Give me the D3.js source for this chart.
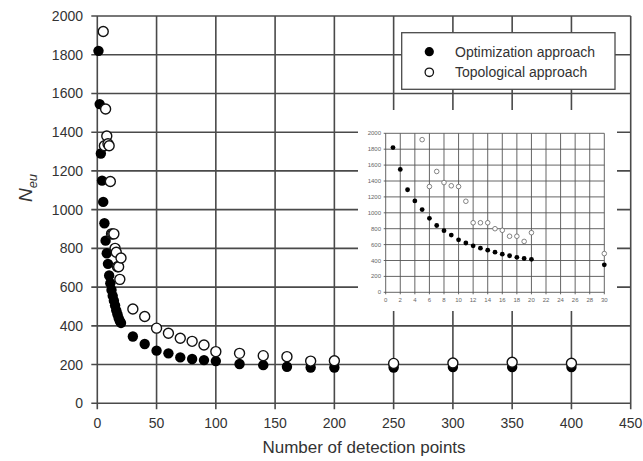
<!DOCTYPE html>
<html>
<head>
	<meta charset="utf-8">
	<title>Neu vs detection points</title>
	<script src="https://d3js.org/d3.v7.min.js"></script>
	<style>
		body { margin: 0; background: #fff; }
		text { font-family: "Liberation Sans", Arial, sans-serif; }
	</style>
</head>
<body>
<script>
// data
var optX = [1,2,3,4,5,6,7,8,9,10,11,12,13,14,15,16,17,18,19,20,30,40,50,60,70,80,90,100,120,140,160,180,200,250,300,350,400]
var optY = [1820,1545,1290,1150,1040,930,840,775,720,660,620,585,555,530,505,480,460,440,425,415,345,306,272,258,237,229,223,218,203,197,189,185,185,185,187,187,187]
var topoX = [5,6,7,8,9,10,11,12,13,14,15,16,17,18,19,20,30,40,50,60,70,80,90,100,120,140,160,180,200,250,300,350,400]
var topoY = [1920,1330,1520,1380,1340,1330,1145,875,875,875,800,780,705,705,640,750,487,448,388,362,336,320,301,267,258,246,241,218,220,206,208,212,207]
var xTicks = d3.range(0, 451, 50)
var yTicks = d3.range(0, 2001, 200)
var insetXTicks = d3.range(0, 31, 2)
var legendLabels = ["Optimization approach", "Topological approach"]

var width = 643, height = 461
var svg = d3.select("body").append("svg")
	.attr("width", width)
	.attr("height", height)

var x = d3.scaleLinear().domain([0, 450]).range([97.3, 630.7])
var y = d3.scaleLinear().domain([0, 2000]).range([403.3, 16])
var gridCol = "#4a4a4a"
var textCol = "#333"

// grid
svg.append("g").selectAll("line").data(xTicks).enter().append("line")
	.attr("x1", d => x(d)).attr("x2", d => x(d))
	.attr("y1", y(2000)).attr("y2", y(0) + 6)
	.attr("stroke", gridCol).attr("stroke-width", 1.6)
svg.append("g").selectAll("line").data(yTicks).enter().append("line")
	.attr("x1", x(0) - 6).attr("x2", x(450))
	.attr("y1", d => y(d)).attr("y2", d => y(d))
	.attr("stroke", gridCol).attr("stroke-width", 1.6)

// tick labels
svg.append("g").selectAll("text").data(xTicks).enter().append("text")
	.attr("x", d => x(d)).attr("y", 428)
	.attr("text-anchor", "middle").attr("font-size", 14).attr("fill", textCol)
	.text(d => d)
svg.append("g").selectAll("text").data(yTicks).enter().append("text")
	.attr("x", 83).attr("y", d => y(d) + 5)
	.attr("text-anchor", "end").attr("font-size", 14).attr("fill", textCol)
	.text(d => d)

// axis titles
svg.append("text")
	.attr("x", 364).attr("y", 453)
	.attr("text-anchor", "middle").attr("font-size", 17).attr("fill", textCol)
	.text("Number of detection points")
var yt = svg.append("text")
	.attr("transform", "translate(32,188) rotate(-90)")
	.attr("text-anchor", "middle").attr("fill", textCol).attr("font-style", "italic")
yt.append("tspan").attr("font-size", 19).text("N")
yt.append("tspan").attr("font-size", 13).attr("dy", 5).text("eu")

// main points
svg.append("g").selectAll("circle").data(optX).enter().append("circle")
	.attr("cx", d => x(d)).attr("cy", (d, i) => y(optY[i]))
	.attr("r", 5.2).attr("fill", "#000")
svg.append("g").selectAll("circle").data(topoX).enter().append("circle")
	.attr("cx", d => x(d)).attr("cy", (d, i) => y(topoY[i]))
	.attr("r", 5).attr("fill", "#fff").attr("stroke", "#111").attr("stroke-width", 1.4)

// legend
var lg = svg.append("g")
lg.append("rect").attr("x", 401.7).attr("y", 32.7).attr("width", 213.3).attr("height", 56.6)
	.attr("fill", "#fff").attr("stroke", gridCol).attr("stroke-width", 1.3)
legendLabels.forEach(function(l, i) {
	var cy = 51.7 + i * 20.6
	lg.append("circle").attr("cx", 429.3).attr("cy", cy).attr("r", i == 0 ? 4.6 : 4.2)
		.attr("fill", i == 0 ? "#000" : "#fff").attr("stroke", "#111").attr("stroke-width", i == 0 ? 0 : 1.3)
	lg.append("text").attr("x", 455).attr("y", cy + 5).attr("font-size", 14).attr("fill", textCol).text(l)
})

// inset
var ix = d3.scaleLinear().domain([0, 30]).range([385.7, 604.3])
var iy = d3.scaleLinear().domain([0, 2000]).range([292.3, 133.3])
var ins = svg.append("g")
ins.append("rect").attr("x", 358).attr("y", 110).attr("width", 259).attr("height", 201).attr("fill", "#fff")
ins.append("g").selectAll("line").data(insetXTicks).enter().append("line")
	.attr("x1", d => ix(d)).attr("x2", d => ix(d))
	.attr("y1", iy(2000)).attr("y2", iy(0) + 2)
	.attr("stroke", "#555").attr("stroke-width", 0.9)
ins.append("g").selectAll("line").data(yTicks).enter().append("line")
	.attr("x1", ix(0) - 2).attr("x2", ix(30))
	.attr("y1", d => iy(d)).attr("y2", d => iy(d))
	.attr("stroke", "#555").attr("stroke-width", 0.9)
ins.append("g").selectAll("text").data(insetXTicks).enter().append("text")
	.attr("x", d => ix(d)).attr("y", 302)
	.attr("text-anchor", "middle").attr("font-size", 6).attr("fill", "#666")
	.text(d => d)
ins.append("g").selectAll("text").data(yTicks).enter().append("text")
	.attr("x", 381).attr("y", d => iy(d) + 2)
	.attr("text-anchor", "end").attr("font-size", 6).attr("fill", "#666")
	.text(d => d)
var inOpt = optX.filter(d => d <= 30)
ins.append("g").selectAll("circle").data(inOpt).enter().append("circle")
	.attr("cx", d => ix(d)).attr("cy", (d, i) => iy(optY[i]))
	.attr("r", 2.4).attr("fill", "#000")
var inTopo = topoX.filter(d => d <= 30)
ins.append("g").selectAll("circle").data(inTopo).enter().append("circle")
	.attr("cx", d => ix(d)).attr("cy", (d, i) => iy(topoY[i]))
	.attr("r", 2.3).attr("fill", "#fff").attr("stroke", "#666").attr("stroke-width", 0.8)
</script>
</body>
</html>
